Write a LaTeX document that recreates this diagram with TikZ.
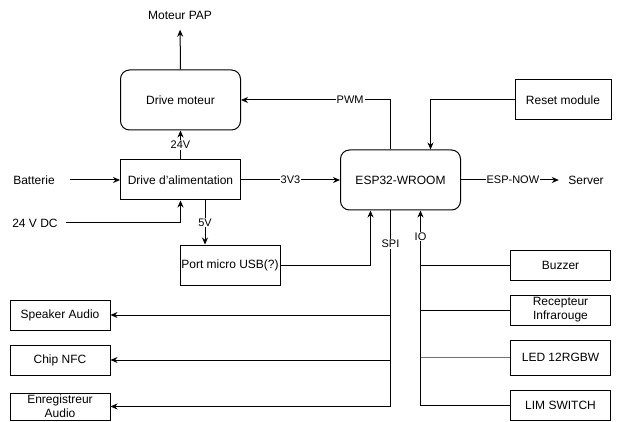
\documentclass[tikz,border=0pt]{standalone}
\usepackage{fontspec}
\setmainfont{Liberation Sans}
\usepackage{tikz}
\usetikzlibrary{arrows.meta, positioning}

\begin{document}
\begin{tikzpicture}[
  x=1pt, y=-1pt,
  font=\fontsize{12}{14}\selectfont,
  block/.style={rectangle, draw, line width=1pt, minimum width=100pt, minimum height=30pt, inner sep=0pt, align=center},
  rblock/.style={block, rounded corners=9pt, minimum width=120pt, minimum height=60pt},
  arrow/.style={-{Stealth[length=7pt, width=6pt]}, line width=1pt},
  link/.style={line width=1pt},
  lbl/.style={fill=white, inner sep=1pt, font=\fontsize{11}{13}\selectfont}
]
  \useasboundingbox[fill=white] (0,0) rectangle (621,422);

  % power side
  \node[rblock] (moteur) at (180.5,100) {Drive moteur};
  \node[block, minimum width=120pt, minimum height=40pt] (alim) at (180.5,180) {Drive d'alimentation};
  \node[block, minimum height=40pt] (usb) at (230,265) {Port micro USB(?)};
  \node (pap) at (180,15) {Moteur PAP};
  \node (batt) at (34,180) {Batterie};
  \node (dc) at (35,223) {24 V DC};

  % controller
  \node[rblock] (esp) at (400.5,180) {ESP32-WROOM};
  \node[block, minimum width=96pt, minimum height=40pt] (reset) at (563,100) {Reset module};
  \node (server) at (586,180) {Server};

  % IO side
  \node[block] (buzzer) at (560.5,265) {Buzzer};
  \node[block] (recep) at (560.5,310) {Recepteur\\Infrarouge};
  \node[block, minimum height=35pt] (led) at (560.5,357.5) {LED 12RGBW};
  \node[block] (lim) at (560.5,405) {LIM SWITCH};

  % SPI side
  \node[block] (spk) at (60,315) {Speaker Audio};
  \node[block] (nfc) at (60,360) {Chip NFC};
  \node[block, minimum height=27pt] (enreg) at (60,406.5) {Enregistreur\\Audio};

  \coordinate (spi) at ([xshift=-10pt]esp.south);
  \coordinate (io) at ([xshift=20pt]esp.south);

  \draw[arrow, shorten >=7pt] (moteur.north) -- (pap.south);
  \draw[arrow] (alim.north) -- node[lbl] {24V} (moteur.south);
  \draw[arrow, shorten <=12pt] (batt.east) -- (alim.west);
  \draw[arrow, shorten <=5pt] (dc.east) -| (alim.south);
  \draw[arrow] ([xshift=-25pt]usb.north |- alim.south) -- node[lbl] {5V} ([xshift=-25pt]usb.north);
  \draw[arrow] (alim.east) -- node[lbl] {3V3} (esp.west);
  \draw[arrow] ([xshift=-10pt]esp.north) |- node[lbl, pos=0.635] {PWM} (moteur.east);
  \draw[arrow] (reset.west) -| ([xshift=30pt]esp.north);
  \draw[arrow, shorten >=6pt] (esp.east) -- node[lbl] {ESP-NOW} (server.west);
  \draw[arrow] (usb.east) -| ([xshift=-30pt]esp.south);

  % SPI bus
  \draw[arrow] (spi) |- node[lbl, pos=0.085] {SPI} (enreg.east);
  \draw[arrow] (spk.east -| spi) -- (spk.east);
  \draw[arrow] (nfc.east -| spi) -- (nfc.east);

  % IO bus
  \draw[arrow] (lim.west) -| node[lbl, pos=0.933] {IO} (io);
  \draw[link] (buzzer.west) -- (buzzer.west -| io);
  \draw[link] (recep.west) -- (recep.west -| io);
  \draw[link, draw=black!55] (led.west) -- (led.west -| io);
\end{tikzpicture}
\end{document}
